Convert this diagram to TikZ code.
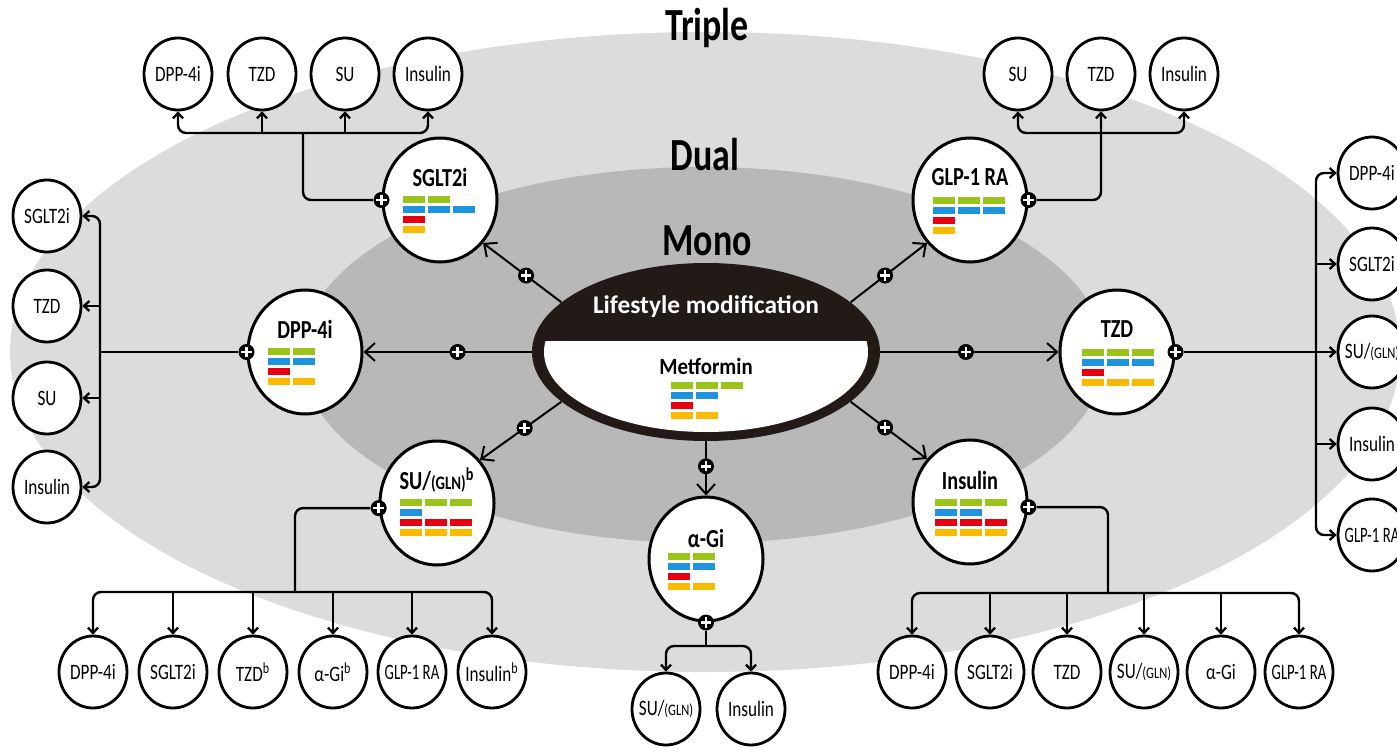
\documentclass[tikz,border=0pt]{standalone}
\usepackage{fontspec}
\usepackage{graphicx}
\setmainfont{Carlito}
\newfontfamily\cnd[FakeStretch=0.78]{Carlito}
\newfontfamily\cndm[FakeStretch=0.9]{Carlito}
\usetikzlibrary{shapes.geometric,arrows.meta}

\definecolor{bandgray}{HTML}{DCDCDC}
\definecolor{monogray}{HTML}{B8B8B8}
\definecolor{lifedark}{HTML}{221A17}
\definecolor{barG}{HTML}{9BC31A}
\definecolor{barB}{HTML}{1E93E0}
\definecolor{barR}{HTML}{E50012}
\definecolor{barY}{HTML}{F9BA00}

% zero-width label so that the ellipse keeps its set size
\newcommand{\lbl}[1]{\makebox[0pt]{#1}}
% efficacy bars: node, x offset, y offset, counts of green/blue/red/yellow
\newcommand{\drugbars}[7]{%
  \foreach \barcol/\barnum [count=\barrow from 0] in {barG/#4,barB/#5,barR/#6,barY/#7}{%
    \foreach \bark in {1,...,\barnum}{%
      \fill[\barcol] (#1) ++({#2+25*(\bark-1)},{#3+10*\barrow}) rectangle ++(22,6.5);
    }%
  }%
}

\tikzset{
  smallnode/.style={ellipse, draw, line width=1.4pt, fill=white, inner sep=0pt,
    minimum width=34pt, minimum height=36pt, font=\cnd\fontsize{11}{12}\selectfont},
  bignode/.style={ellipse, draw, line width=1.5pt, fill=white, inner sep=0pt,
    minimum width=57pt, minimum height=62pt},
  bigtitle/.style={font=\cnd\bfseries\fontsize{13}{14}\selectfont, inner sep=0pt},
  biglabel/.style={font=\cnd\bfseries\fontsize{23}{24}\selectfont, inner sep=0pt},
  plusmark/.style={circle, fill=black, inner sep=0pt, minimum size=8pt,
    path picture={
      \draw[white, line width=1.3pt, -]
        ([xshift=-2.6pt]path picture bounding box.center) -- ([xshift=2.6pt]path picture bounding box.center)
        ([yshift=-2.6pt]path picture bounding box.center) -- ([yshift=2.6pt]path picture bounding box.center);
    }},
  branch/.style={line width=1.2pt, rounded corners=4pt},
  brtip/.style={-{Straight Barb[length=2.6pt,width=5pt]}},
  mainarr/.style={line width=1pt, -{Straight Barb[length=5pt,width=9pt]}}
}

\begin{document}
\begin{tikzpicture}[x=0.5pt,y=-0.5pt]
\useasboundingbox (0,0) rectangle (1397,749);
\fill[white] (0,0) rectangle (1397,749);

% treatment stages
\fill[bandgray] (705,352) ellipse [x radius=347.5pt, y radius=160pt];
\fill[monogray] (703,355) ellipse [x radius=201pt, y radius=94pt];
\node[biglabel] (lbl-triple) at (707,28) {Triple};
\node[biglabel] (lbl-dual) at (705,155) {Dual};
\node[biglabel] (lbl-mono) at (707,241) {Mono};

% lifestyle + metformin core
\node[ellipse, fill=lifedark, inner sep=0pt, minimum width=174pt, minimum height=89pt] (life) at (706,352) {};
\begin{scope}
  \clip (520,341) rectangle (900,460);
  \fill[white] (706,352) ellipse [x radius=81pt, y radius=40pt];
\end{scope}
\node[font=\bfseries\fontsize{12.7}{13}\selectfont, text=white, inner sep=0pt] (life-title) at (706,307) {Lifestyle modification};
\node[font=\cndm\bfseries\fontsize{11.6}{12}\selectfont, inner sep=0pt] (life-met) at (706,366) {Metformin};
\drugbars{life}{-35}{30}{3}{2}{1}{2}

% dual-therapy drugs
\node[bignode] (sglt) at (440,200) {};
\node[bignode] (glp) at (970,200) {};
\node[bignode] (dpp) at (305,352) {};
\node[bignode] (tzd) at (1117,352) {};
\node[bignode] (su) at (437,503) {};
\node[bignode] (agi) at (706,559) {};
\node[bignode] (ins) at (970,502) {};

\node[bigtitle] (sglt-t) at ([yshift=11.5pt]sglt.center) {SGLT2i};
\node[bigtitle] (glp-t) at ([yshift=11.5pt]glp.center) {GLP-1 RA};
\node[bigtitle] (dpp-t) at ([yshift=11.5pt]dpp.center) {DPP-4i};
\node[bigtitle] (tzd-t) at ([yshift=11.5pt]tzd.center) {TZD};
\node[bigtitle] (su-t) at ([yshift=11.5pt]su.center) {SU/{\fontsize{9.5}{10}\selectfont(GLN)}\textsuperscript{b}};
\node[bigtitle] (agi-t) at ([yshift=10.5pt]agi.center) {α-Gi};
\node[bigtitle] (ins-t) at ([yshift=11pt]ins.center) {Insulin};

\drugbars{sglt}{-37}{-4}{2}{3}{1}{1}
\drugbars{glp}{-37}{-3}{3}{3}{1}{1}
\drugbars{dpp}{-37}{-4}{2}{2}{1}{2}
\drugbars{tzd}{-35}{-3}{3}{3}{1}{3}
\drugbars{su}{-37}{-4}{3}{1}{3}{3}
\drugbars{agi}{-38}{-6}{2}{2}{1}{2}
\drugbars{ins}{-35}{-3}{3}{2}{3}{3}

% triple-therapy options
\node[smallnode] (tl1) at (178,74) {\lbl{DPP-4i}};
\node[smallnode] (tl2) at (262,74) {\lbl{TZD}};
\node[smallnode] (tl3) at (345,74) {\lbl{SU}};
\node[smallnode] (tl4) at (428,74) {\lbl{Insulin}};

\node[smallnode] (tr1) at (1018,74) {\lbl{SU}};
\node[smallnode] (tr2) at (1101,74) {\lbl{TZD}};
\node[smallnode] (tr3) at (1184,74) {\lbl{Insulin}};

\node[smallnode] (l1) at (47,216) {\lbl{SGLT2i}};
\node[smallnode] (l2) at (47,306) {\lbl{TZD}};
\node[smallnode] (l3) at (47,398) {\lbl{SU}};
\node[smallnode] (l4) at (47,487) {\lbl{Insulin}};

\node[smallnode] (r1) at (1372,173) {\lbl{DPP-4i}};
\node[smallnode] (r2) at (1372,264) {\lbl{SGLT2i}};
\node[smallnode] (r3) at (1372,352) {\lbl{SU/{\fontsize{8}{9}\selectfont(GLN)}}};
\node[smallnode] (r4) at (1372,444) {\lbl{Insulin}};
\node[smallnode] (r5) at (1372,535) {\lbl{\scalebox{0.86}[1]{GLP-1 RA}}};

\node[smallnode] (b1) at (93,672) {\lbl{DPP-4i}};
\node[smallnode] (b2) at (173,672) {\lbl{SGLT2i}};
\node[smallnode] (b3) at (253,672) {\lbl{TZD\textsuperscript{b}}};
\node[smallnode] (b4) at (333,672) {\lbl{α-Gi\textsuperscript{b}}};
\node[smallnode] (b5) at (412,672) {\lbl{\scalebox{0.86}[1]{GLP-1 RA}}};
\node[smallnode] (b6) at (492,672) {\lbl{Insulin\textsuperscript{b}}};

\node[smallnode] (c1) at (666,709) {\lbl{SU/{\fontsize{8}{9}\selectfont(GLN)}}};
\node[smallnode] (c2) at (751,709) {\lbl{Insulin}};

\node[smallnode] (d1) at (912,672) {\lbl{DPP-4i}};
\node[smallnode] (d2) at (990,672) {\lbl{SGLT2i}};
\node[smallnode] (d3) at (1067,672) {\lbl{TZD}};
\node[smallnode] (d4) at (1144,672) {\lbl{SU/{\fontsize{8}{9}\selectfont(GLN)}}};
\node[smallnode] (d5) at (1221,672) {\lbl{α-Gi}};
\node[smallnode] (d6) at (1299,672) {\lbl{\scalebox{0.86}[1]{GLP-1 RA}}};

% branch junctions
\coordinate (jtl) at (303,133);
\coordinate (jtr) at (1101,133);
\coordinate (jl) at (100,352);
\coordinate (jr) at (1316,352);
\coordinate (jbl) at (295,592);
\coordinate (jbc) at (706,646);
\coordinate (jbr) at (1108,593);

% add-on markers on the dual-therapy circles
\node[plusmark] (sglt-p) at (sglt.west) {};
\node[plusmark] (glp-p) at (glp.east) {};
\node[plusmark] (dpp-p) at (dpp.west) {};
\node[plusmark] (tzd-p) at (tzd.east) {};
\node[plusmark] (su-p) at (su.185) {};
\node[plusmark] (agi-p) at (agi.south) {};
\node[plusmark] (ins-p) at (ins.355) {};

% SGLT2i -> triple
\draw[branch] (sglt-p) -| (jtl);
\draw[branch, brtip] (jtl) -| (tl1);
\draw[branch, brtip] (jtl) -| (tl4);
\draw[branch, brtip] (tl2 |- jtl) -- (tl2);
\draw[branch, brtip] (tl3 |- jtl) -- (tl3);

% GLP-1 RA -> triple
\draw[branch, brtip] (glp-p) -| (tr2);
\draw[branch, brtip] (jtr) -| (tr1);
\draw[branch, brtip] (jtr) -| (tr3);

% DPP-4i -> triple
\draw[branch] (dpp-p) -- (jl);
\draw[branch, brtip] (jl) |- (l1);
\draw[branch, brtip] (jl) |- (l4);
\draw[branch, brtip] (jl |- l2) -- (l2);
\draw[branch, brtip] (jl |- l3) -- (l3);

% TZD -> triple
\draw[branch, brtip] (tzd-p) -- (r3);
\draw[branch, brtip] (jr) |- (r1);
\draw[branch, brtip] (jr) |- (r5);
\draw[branch, brtip] (jr |- r2) -- (r2);
\draw[branch, brtip] (jr |- r4) -- (r4);

% SU/(GLN) -> triple
\draw[branch] (su-p) -| (jbl);
\draw[branch, brtip] (jbl) -| (b1);
\draw[branch, brtip] (jbl) -| (b6);
\draw[branch, brtip] (b2 |- jbl) -- (b2);
\draw[branch, brtip] (b3 |- jbl) -- (b3);
\draw[branch, brtip] (b4 |- jbl) -- (b4);
\draw[branch, brtip] (b5 |- jbl) -- (b5);

% alpha-Gi -> triple
\draw[branch] (agi-p) -- (jbc);
\draw[branch, brtip] (jbc) -| (c1);
\draw[branch, brtip] (jbc) -| (c2);

% Insulin -> triple
\draw[branch] (ins-p) -| (jbr);
\draw[branch, brtip] (jbr) -| (d1);
\draw[branch, brtip] (jbr) -| (d6);
\draw[branch, brtip] (d2 |- jbr) -- (d2);
\draw[branch, brtip] (d3 |- jbr) -- (d3);
\draw[branch, brtip] (d4 |- jbr) -- (d4);
\draw[branch, brtip] (d5 |- jbr) -- (d5);

% mono -> dual
\draw[mainarr] (life.161) -- node[plusmark, pos=0.45] (m1) {} (sglt.315);
\draw[mainarr] (life.19) -- node[plusmark, pos=0.45] (m2) {} (glp.225);
\draw[mainarr] (life.west) -- node[plusmark, pos=0.44] (m3) {} (dpp.east);
\draw[mainarr] (life.east) -- node[plusmark, pos=0.48] (m4) {} (tzd.west);
\draw[mainarr] (life.199) -- node[plusmark, pos=0.45] (m5) {} (su.45);
\draw[mainarr] (life.341) -- node[plusmark, pos=0.45] (m6) {} (ins.135);
\draw[mainarr] (life.south) -- node[plusmark, pos=0.46] (m7) {} (agi.north);
\end{tikzpicture}
\end{document}
